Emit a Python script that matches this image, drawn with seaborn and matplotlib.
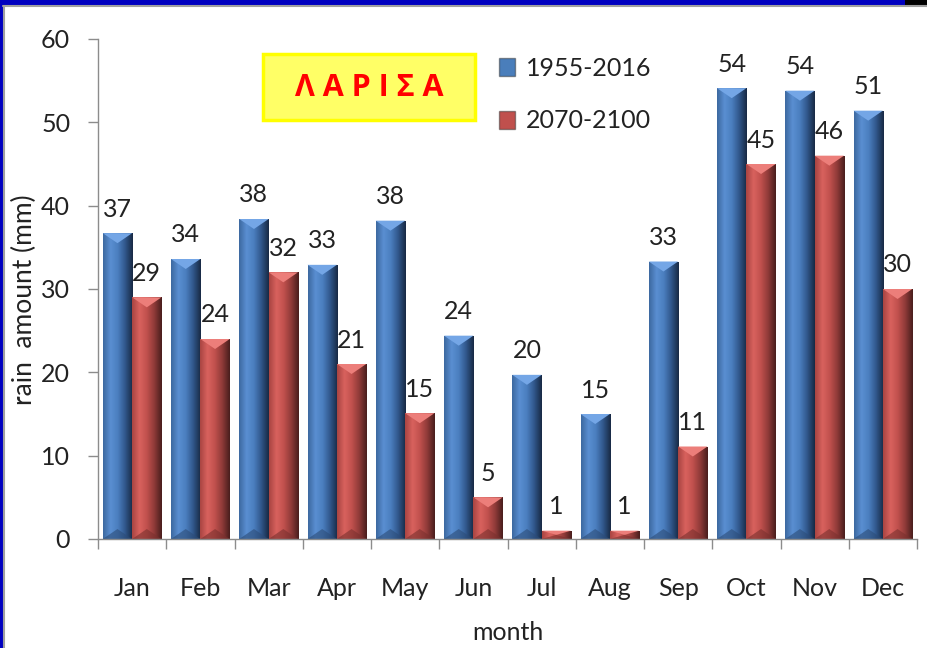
import numpy as np
import pandas as pd
import matplotlib
matplotlib.use('Agg')
import matplotlib.pyplot as plt
from matplotlib.patches import Rectangle, Polygon
from matplotlib.lines import Line2D
from matplotlib.colors import LinearSegmentedColormap
import seaborn as sns

MONTHS = ['Jan', 'Feb', 'Mar', 'Apr', 'May', 'Jun', 'Jul', 'Aug', 'Sep', 'Oct', 'Nov', 'Dec']
PERIODS = ['1955-2016', '2070-2100']
RAIN_PAST = [36.7, 33.6, 38.4, 32.9, 38.2, 24.4, 19.7, 15.0, 33.3, 54.1, 53.8, 51.4]
RAIN_FUTURE = [29.0, 24.0, 32.0, 21.0, 15.1, 5.0, 1.0, 1.0, 11.1, 45.0, 46.0, 30.0]
Y_TICKS = [0, 10, 20, 30, 40, 50, 60]

BLUE = '#4A7EBB'
RED = '#C0504D'
GRAD = {
    BLUE: ['#3D69A0', '#5A8FD2', '#4A7EBE', '#30568A', '#182A45'],
    RED: ['#A94542', '#D9625E', '#C0504D', '#8E3A38', '#4A1E1D'],
}
TOP = {BLUE: '#74A6E6', RED: '#EC7E7A'}
BOTTOM = {BLUE: '#2C4C78', RED: '#7A302E'}

sns.set_theme(style='white')
plt.rcParams['font.family'] = ['Lato', 'DejaVu Sans']

df = pd.DataFrame({
    'month': MONTHS * 2,
    'rain': RAIN_PAST + RAIN_FUTURE,
    'period': [PERIODS[0]] * 12 + [PERIODS[1]] * 12,
})

fig = plt.figure(figsize=(9.28, 6.48), dpi=100)
ax = fig.add_axes([98 / 928, 1 - 539 / 648, 819 / 928, 500 / 648])

sns.barplot(data=df, x='month', y='rain', hue='period', order=MONTHS,
            hue_order=PERIODS, palette=[BLUE, RED], width=0.86, saturation=1,
            ax=ax)

ax.set_ylim(0, 60)
ax.set_xlim(-0.5, len(MONTHS) - 0.5)
ax.set_yticks(Y_TICKS)
ax.set_yticklabels([str(t) for t in Y_TICKS], fontsize=18, color='#222222')
ax.tick_params(axis='y', length=7, width=1, color='#8C8C8C', pad=13, left=True)
ax.set_xticks(range(len(MONTHS)))
ax.set_xticklabels(MONTHS, fontsize=18, color='#222222')
ax.set_xticks(np.arange(-0.5, len(MONTHS)), minor=True)
ax.tick_params(axis='x', which='major', length=0, pad=27)
ax.tick_params(axis='x', which='minor', length=7, width=1, color='#8C8C8C', bottom=True)
for s in ['top', 'right']:
    ax.spines[s].set_visible(False)
for s in ['left', 'bottom']:
    ax.spines[s].set_color('#8C8C8C')
    ax.spines[s].set_linewidth(1)

ax.set_ylabel('rain  amount (mm)', fontsize=19, color='#222222')
ax.set_xlabel('month', fontsize=18, color='#222222')
ax.yaxis.label.set_va('center')
ax.yaxis.set_label_coords(-0.09, 0.478)
ax.xaxis.label.set_va('center')
ax.xaxis.set_label_coords(0.5, -0.186)

# bevel look on each bar
px_per_unit = 500 / 60
for container, col in zip(ax.containers, [BLUE, RED]):
    cmap = LinearSegmentedColormap.from_list('g', GRAD[col])
    grad = np.linspace(0, 1, 64).reshape(1, -1)
    for bar in container:
        x0, w, h = bar.get_x(), bar.get_width(), bar.get_height()
        im = ax.imshow(grad, cmap=cmap, aspect='auto', extent=(x0, x0 + w, 0, h),
                       zorder=bar.get_zorder() + 0.1, interpolation='bilinear')
        im.set_clip_path(bar)
        depth = min(10 / px_per_unit, h / 2)
        ax.add_patch(Polygon([(x0, h), (x0 + w, h), (x0 + w / 2, h - depth)],
                             closed=True, color=TOP[col], lw=0,
                             zorder=bar.get_zorder() + 0.2))
        ax.add_patch(Polygon([(x0, 0), (x0 + w, 0), (x0 + w / 2, depth)],
                             closed=True, color=BOTTOM[col], lw=0, alpha=0.6,
                             zorder=bar.get_zorder() + 0.2))
    ax.bar_label(container, fmt='%.0f', padding=9, fontsize=18, color='#222222')

ax.set_ylim(0, 60)
ax.set_xlim(-0.5, len(MONTHS) - 0.5)

leg = ax.legend(loc='upper left', bbox_to_anchor=(0.474, 0.99), frameon=False,
                fontsize=18, handlelength=0.65, handleheight=0.75, handletextpad=0.45,
                labelspacing=1.2, borderpad=0)
for t in leg.get_texts():
    t.set_color('#222222')
for hnd in leg.legend_handles:
    hnd.set_edgecolor('#33333380')

# title box
ax.add_patch(Rectangle((0.2015, 0.838), 0.2585, 0.132, transform=ax.transAxes,
                       facecolor='#FFFF66', edgecolor='#FFFF00', lw=2.5, zorder=5))
ax.text(0.331, 0.902, 'Λ Α Ρ Ι Σ Α', transform=ax.transAxes, ha='center', va='center',
        fontsize=22, fontweight='bold', color='#FF0000',
        family=['Open Sans', 'DejaVu Sans'], zorder=6)

# slide frame
fig.patches.append(Rectangle((0, 1 - 5 / 648), 1, 5 / 648, transform=fig.transFigure,
                             facecolor='#0000C0', lw=0, figure=fig))
fig.patches.append(Rectangle((905 / 928, 1 - 5 / 648), 23 / 928, 5 / 648,
                             transform=fig.transFigure, facecolor='#000000', lw=0, figure=fig))
fig.patches.append(Rectangle((0, 0), 3 / 928, 1, transform=fig.transFigure,
                             facecolor='#0000C0', lw=0, figure=fig))
fig.lines.append(Line2D([3 / 928, 1], [1 - 6 / 648, 1 - 6 / 648], transform=fig.transFigure,
                        color='#A0A0A0', lw=1.5, figure=fig))
fig.lines.append(Line2D([4 / 928, 4 / 928], [0, 1 - 6 / 648], transform=fig.transFigure,
                        color='#A0A0A0', lw=1.5, figure=fig))

fig.savefig('out.png', dpi=100)
